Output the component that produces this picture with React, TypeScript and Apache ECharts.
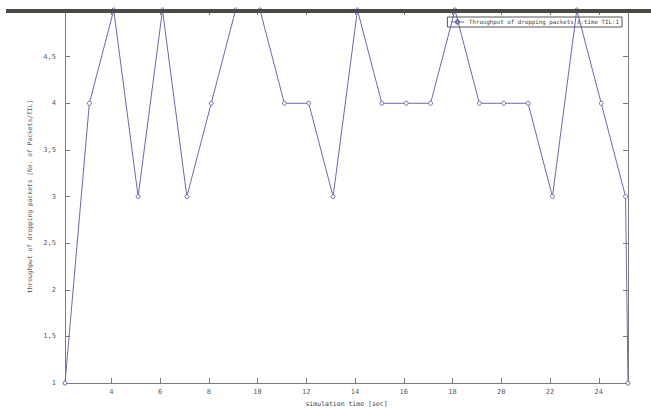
import React, { useEffect, useRef } from "react";
import * as echarts from "echarts";

const times = [2.1, 3.1, 4.1, 5.1, 6.1, 7.1, 8.1, 9.1, 10.1, 11.1, 12.1, 13.1, 14.1, 15.1, 16.1, 17.1, 18.1, 19.1, 20.1, 21.1, 22.1, 23.1, 24.1, 25.1, 25.2];
const throughput = [1, 4, 5, 3, 5, 3, 4, 5, 5, 4, 4, 3, 5, 4, 4, 4, 5, 4, 4, 4, 3, 5, 4, 3, 1];
const xTicks = [4, 6, 8, 10, 12, 14, 16, 18, 20, 22, 24];
const seriesName = "Throughput of dropping packets X:time TIL:1";
const xTitle = "simulation time [sec]";
const yTitle = "throughput of dropping packets [No. of Packets/TIL]";

export default function App() {
  const ref = useRef<HTMLDivElement>(null);
  useEffect(() => {
    document.body.style.margin = "0";
    const chart = echarts.init(ref.current!, null, { renderer: "svg" });
    const font = "DejaVu Sans Mono";
    const axisGray = "#7a7a7a";
    const textGray = "#5a5a5a";
    const lineColor = "#6a6aae";
    const xCommon = {
      type: "value" as const,
      min: 2.1,
      max: 25.2,
      splitLine: { show: false },
      axisLine: { show: true, onZero: false, lineStyle: { color: axisGray, width: 1 } },
      axisTick: { show: true, inside: true, length: 5, customValues: xTicks, lineStyle: { color: axisGray } },
    };
    const yCommon = {
      type: "value" as const,
      min: 1,
      max: 5,
      interval: 0.5,
      splitLine: { show: false },
      axisLine: { show: true, onZero: false, lineStyle: { color: axisGray, width: 1 } },
      axisTick: { show: true, inside: true, length: 5, lineStyle: { color: axisGray } },
    };
    chart.setOption({
      animation: false,
      backgroundColor: "#ffffff",
      grid: { left: 65, right: 23, top: 10, bottom: 24, containLabel: false },
      legend: {
        show: true,
        right: 29,
        top: 17,
        itemWidth: 13,
        itemHeight: 4,
        itemGap: 4,
        padding: [2, 3, 2, 3],
        borderColor: "#555",
        borderWidth: 1,
        backgroundColor: "transparent",
        lineStyle: { width: 1 },
        textStyle: { fontFamily: font, fontSize: 5.8, color: "#444" },
        data: [seriesName],
      },
      xAxis: [
        {
          ...xCommon,
          position: "bottom",
          name: xTitle,
          nameLocation: "middle",
          nameGap: 16,
          nameTextStyle: { fontFamily: font, fontSize: 6.5, color: "#444" },
          axisLabel: { show: true, customValues: xTicks, margin: 5, fontFamily: font, fontSize: 7, color: textGray },
        },
        { ...xCommon, position: "top", axisLabel: { show: false } },
      ],
      yAxis: [
        {
          ...yCommon,
          position: "left",
          name: yTitle,
          nameLocation: "middle",
          nameGap: 20,
          nameTextStyle: { fontFamily: font, fontSize: 6.3, color: textGray },
          axisLabel: {
            show: true,
            showMaxLabel: false,
            margin: 9,
            fontFamily: font,
            fontSize: 7,
            color: textGray,
            formatter: (v: number) => String(v).replace(".", ","),
          },
        },
        { ...yCommon, position: "right", axisLabel: { show: false } },
      ],
      series: [
        {
          name: seriesName,
          type: "line",
          data: times.map((t, i) => [t, throughput[i]]),
          symbol: "circle",
          symbolSize: 4,
          showSymbol: true,
          clip: false,
          lineStyle: { color: lineColor, width: 1 },
          itemStyle: { color: "#ffffff", borderColor: lineColor, borderWidth: 1 },
          z: 2,
        },
      ],
      graphic: [
        {
          type: "rect",
          shape: { x: 6, y: 9, width: 645, height: 4 },
          style: { fill: "#4b4b46" },
          z: 100,
        },
      ],
    });
    return () => chart.dispose();
  }, []);
  return <div ref={ref} style={{ position: "fixed", left: 0, top: 0, width: 651, height: 412 }} />;
}
